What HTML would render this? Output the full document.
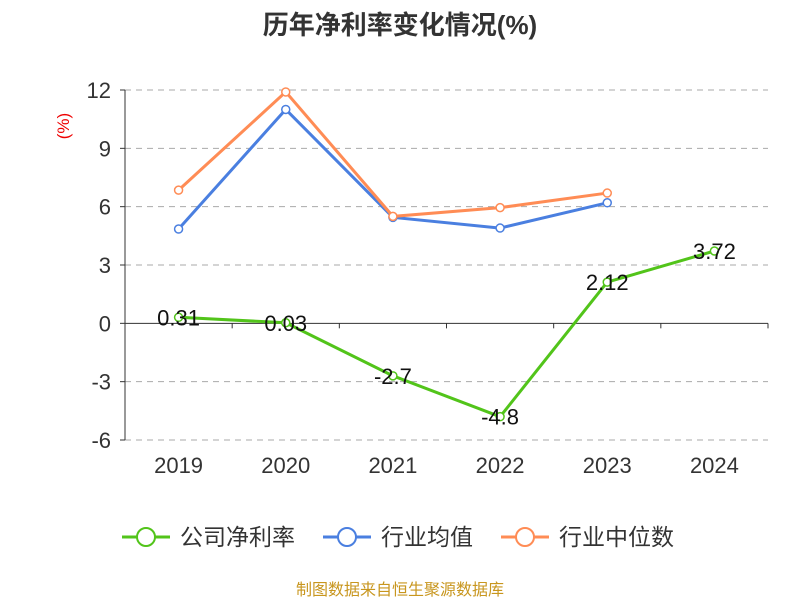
<!DOCTYPE html>
<html><head><meta charset="utf-8"><style>
body{margin:0;background:#fff;font-family:"Liberation Sans","Noto Sans CJK SC",sans-serif}
svg text{font-family:"Liberation Sans","Noto Sans CJK SC",sans-serif}
</style></head><body>
<svg id="c" width="800" height="600" viewBox="0 0 800 600">
<text x="400" y="34" text-anchor="middle" font-size="26" font-weight="bold" fill="#333">历年净利率变化情况(%)</text>
<text x="69" y="126" text-anchor="middle" font-size="17" fill="#e00" transform="rotate(-90 69 126)">(%)</text>
<g id="grid"></g><g id="axes"></g><g id="series"></g>
<g>
<g><line x1="122" y1="537" x2="170" y2="537" stroke="#52c41a" stroke-width="3"/><circle cx="146" cy="537" r="9" fill="#fff" stroke="#52c41a" stroke-width="2"/><text x="180" y="545" font-size="23" fill="#333">公司净利率</text></g>
<g><line x1="323" y1="537" x2="371" y2="537" stroke="#4a7fe0" stroke-width="3"/><circle cx="347" cy="537" r="9" fill="#fff" stroke="#4a7fe0" stroke-width="2"/><text x="381" y="545" font-size="23" fill="#333">行业均值</text></g>
<g><line x1="501" y1="537" x2="549" y2="537" stroke="#ff8c55" stroke-width="3"/><circle cx="525" cy="537" r="9" fill="#fff" stroke="#ff8c55" stroke-width="2"/><text x="559" y="545" font-size="23" fill="#333">行业中位数</text></g>
</g>
<text x="400" y="595" text-anchor="middle" font-size="16" fill="#c8961e">制图数据来自恒生聚源数据库</text>
</svg>
<script>
const categories=["2019","2020","2021","2022","2023","2024"];
const companyValues=[0.31,0.03,-2.7,-4.8,2.12,3.72];
const companyLabels=["0.31","0.03","-2.7","-4.8","2.12","3.72"];
const industryAvg=[4.85,11.0,5.45,4.9,6.2];
const industryMedian=[6.85,11.9,5.5,5.95,6.7];
const yTicks=[-6,-3,0,3,6,9,12];
const NS="http://www.w3.org/2000/svg";
const x0=125,x1=768,yTop=90,yBot=440,vMin=-6,vMax=12;
const bw=(x1-x0)/categories.length;
const xs=i=>x0+bw*(i+0.5);
const ys=v=>yBot-(v-vMin)/(vMax-vMin)*(yBot-yTop);
function mk(t,a,p){const e=document.createElementNS(NS,t);for(const k in a)e.setAttribute(k,a[k]);p.appendChild(e);return e;}
const grid=document.getElementById('grid'),axes=document.getElementById('axes'),ser=document.getElementById('series');
yTicks.forEach(v=>{
 if(v!==0){const l=mk('line',{x1:x0,x2:x1,y1:ys(v),y2:ys(v),stroke:'#aaa','stroke-dasharray':'6,5'},grid);
 
 }
 mk('line',{x1:x0-5,x2:x0,y1:ys(v),y2:ys(v),stroke:'#333'},axes);
 const t=mk('text',{x:x0-14,y:ys(v)+8,'text-anchor':'end','font-size':22,fill:'#333'},axes);t.textContent=v;
 
 
});
const ya=mk('line',{x1:x0,x2:x0,y1:yTop,y2:yBot,stroke:'#333'},axes);


const xa=mk('line',{x1:x0,x2:x1,y1:ys(0),y2:ys(0),stroke:'#333'},axes);


for(let i=0;i<=categories.length;i++)mk('line',{x1:x0+bw*i,x2:x0+bw*i,y1:ys(0),y2:ys(0)+5,stroke:'#333'},axes);
categories.forEach((c,i)=>{const t=mk('text',{x:xs(i),y:473,'text-anchor':'middle','font-size':22,fill:'#333'},axes);t.textContent=c;
 
 });
function series(vals,color,name){
 const g=mk('g',{},ser);
 
 
 mk('polyline',{points:vals.map((v,i)=>xs(i)+','+ys(v)).join(' '),fill:'none',stroke:color,'stroke-width':3},g);
 vals.forEach((v,i)=>{const c=mk('circle',{cx:xs(i),cy:ys(v),r:4,fill:'#fff',stroke:color,'stroke-width':1.5},g);
 
 });
}
series(industryAvg,'#4a7fe0','industry-avg-line');
series(industryMedian,'#ff8c55','industry-median-line');
series(companyValues,'#52c41a','company-line');
companyValues.forEach((v,i)=>{const t=mk('text',{x:xs(i),y:ys(v)+8,'text-anchor':'middle','font-size':22,fill:'#111'},ser);t.textContent=companyLabels[i];
 
 });
</script>
</body></html>
